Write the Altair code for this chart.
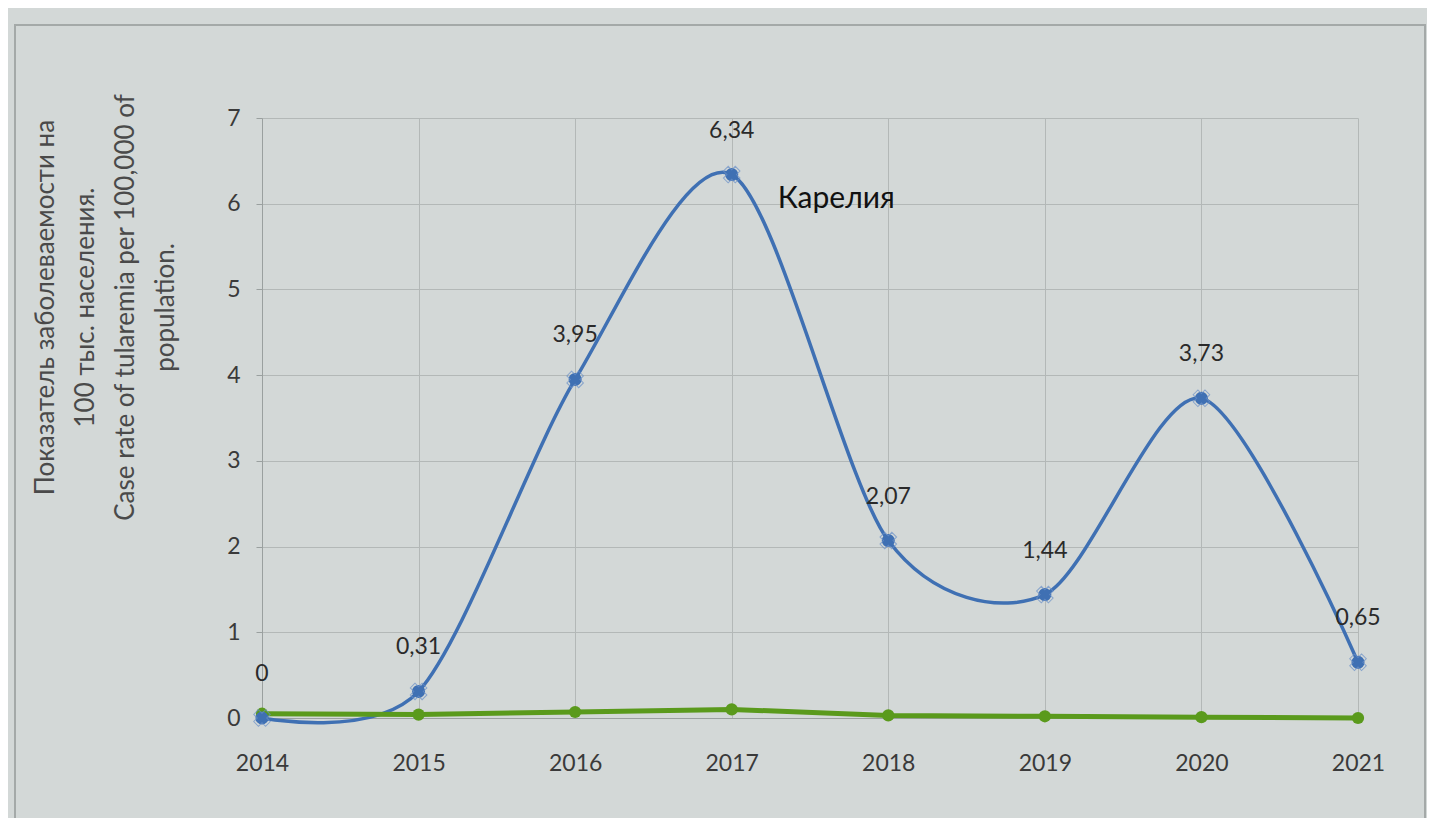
import altair as alt
import pandas as pd

years = [2014, 2015, 2016, 2017, 2018, 2019, 2020, 2021]
karelia = [0.0, 0.31, 3.95, 6.34, 2.07, 1.44, 3.73, 0.65]
karelia_labels = ["0", "0,31", "3,95", "6,34", "2,07", "1,44", "3,73", "0,65"]
russia = [0.05, 0.04, 0.07, 0.10, 0.03, 0.02, 0.01, 0.0]
series_name = "Карелия"
y_title = ["Показатель заболеваемости на", "100 тыс. населения.",
           "Case rate of tularemia per 100,000 of", "population."]

dk = pd.DataFrame({"year": years, "value": karelia, "label": karelia_labels})
dr = pd.DataFrame({"year": years, "value": russia})
dname = pd.DataFrame({"year": [years[3]], "value": [karelia[3]], "name": [series_name]})

FONT = "Lato"
BLUE = "#3f70b3"
GREEN = "#5a9a1c"

x = alt.X("year:Q", scale=alt.Scale(domain=[2014, 2021], nice=False),
          axis=alt.Axis(values=years, format="d", title=None, ticks=False,
                        labelFontSize=23, labelColor="#3a3a3a", labelPadding=34,
                        labelFont=FONT, grid=True, gridColor="#b3b8b7",
                        domainColor="#9aa09f", labelFlush=False))
y = alt.Y("value:Q", scale=alt.Scale(domain=[0, 7], nice=False),
          axis=alt.Axis(values=list(range(8)), title=y_title, ticks=True, tickSize=6,
                        tickColor="#9aa09f",
                        labelFontSize=23, labelColor="#3a3a3a", labelPadding=16,
                        labelFont=FONT, grid=True, gridColor="#b3b8b7",
                        domainColor="#9aa09f",
                        titleFont=FONT, titleFontSize=26, titleFontWeight="normal",
                        titleColor="#4a4a4a", titleAngle=-90, titleAlign="center",
                        titleBaseline="top", titleX=-230, titleY=189,
                        titleLineHeight=40))

base_k = alt.Chart(dk)
green_line = alt.Chart(dr).mark_line(color=GREEN, strokeWidth=5).encode(x=x, y=y)
green_pts = alt.Chart(dr).mark_point(filled=True, color=GREEN, size=150, opacity=1).encode(x=x, y=y)
blue_line = base_k.mark_line(color=BLUE, strokeWidth=3.5, interpolate="cardinal", tension=0.15).encode(x=x, y=y)
blue_pts = base_k.mark_point(filled=True, color=BLUE, size=170, opacity=1).encode(x=x, y=y)
blue_x = base_k.mark_point(shape="cross", color="#6a90c8", size=280, strokeWidth=1, angle=45).encode(x=x, y=y)
labels = base_k.mark_text(dy=-44, fontSize=23, font=FONT, color="#2a2a2a").encode(
    x=x, y=y, text="label:N")
name = alt.Chart(dname).mark_text(align="left", dx=46, dy=24, fontSize=30, font=FONT,
                                   color="#111111").encode(x=x, y=y, text="name:N")
border = alt.Chart(dname).mark_rect(fill=None, stroke="#a4a9a8", strokeWidth=2).encode(
    x=alt.value(-247), x2=alt.value(1163), y=alt.value(-93), y2=alt.value(710))

chart = alt.layer(border, blue_line, green_line, green_pts, blue_pts, blue_x, labels, name).properties(
    width=1096, height=600,
    padding={"left": 254, "top": 110, "right": 69, "bottom": 100},
    autosize=alt.AutoSizeParams(type="none"),
    background="#d3d8d7",
).configure_view(stroke=None)

chart.save("out.html", embed_options={"renderer": "svg", "actions": False})
